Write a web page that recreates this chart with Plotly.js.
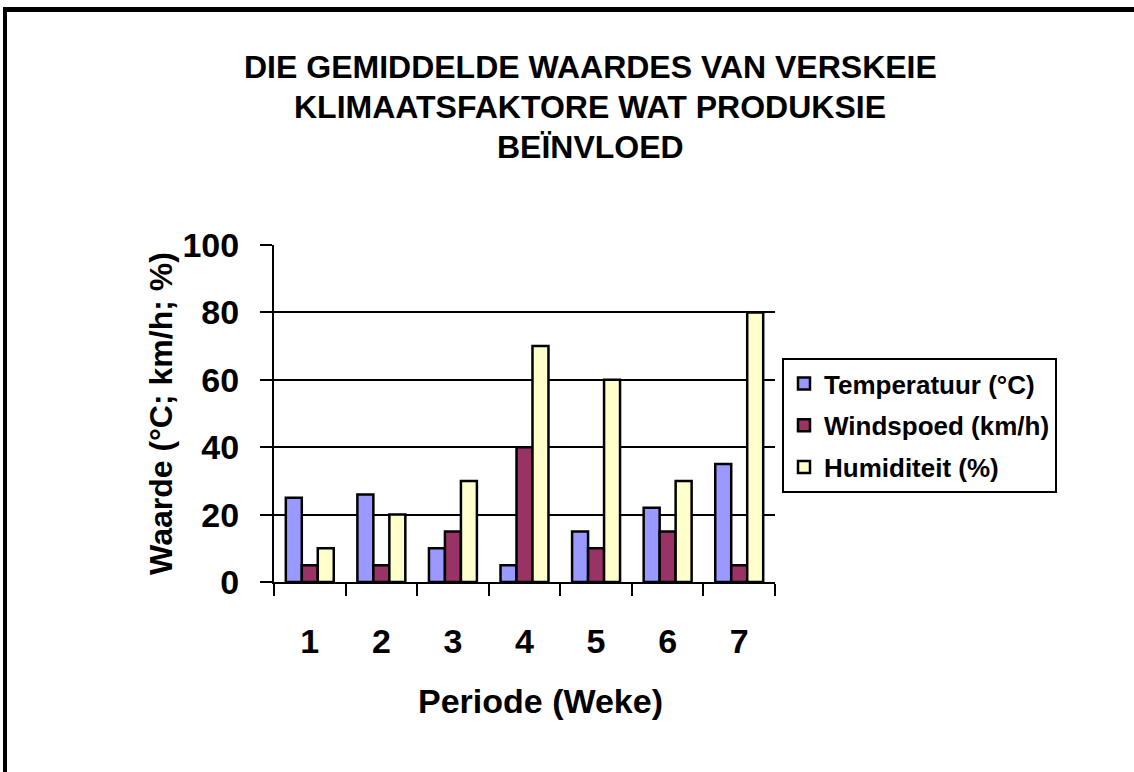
<!DOCTYPE html>
<html>
<head>
<meta charset="utf-8">
<script src="https://cdn.plot.ly/plotly-3.0.1.min.js"></script>
<style>
  html, body { margin: 0; padding: 0; background: #fff; }
  #chart { width: 1134px; height: 772px; }
  #frame { position: absolute; left: 3px; top: 7px; width: 3000px; height: 3000px;
           border-top: 5px solid #000; border-left: 4px solid #000; pointer-events: none; }
</style>
</head>
<body>
<div id="chart"></div>
<div id="frame"></div>
<script>
const categories = ['1', '2', '3', '4', '5', '6', '7'];
const temperatuur = [25, 26, 10, 5, 15, 22, 35];
const windspoed = [5, 5, 15, 40, 10, 15, 5];
const humiditeit = [10, 20, 30, 70, 60, 30, 80];
const seriesNames = ['Temperatuur (°C)', 'Windspoed (km/h)', 'Humiditeit (%)'];
const titleLines = ['DIE GEMIDDELDE WAARDES VAN VERSKEIE', 'KLIMAATSFAKTORE WAT PRODUKSIE', 'BEÏNVLOED'];
const xTitle = 'Periode (Weke)';
const yTitle = 'Waarde (°C; km/h; %)';

const FONT = 'Liberation Sans, Arial, sans-serif';
const colors = ['#9999FF', '#993366', '#FFFFCC'];
const values = [temperatuur, windspoed, humiditeit];

const traces = values.map((v, i) => ({
  type: 'bar',
  name: seriesNames[i],
  x: categories,
  y: v,
  legendgroup: 'g' + i,
  marker: { color: colors[i], line: { color: '#000', width: 2.5 } },
  hoverinfo: 'x+y+name'
}));

const px = x => (x - 274) / 501;
const py = y => (582 - y) / 337;

const titleY = [67, 107, 147];
const annotations = titleLines.map((t, i) => ({
  text: t,
  xref: 'paper', yref: 'paper',
  x: px(590), y: py(titleY[i]),
  xanchor: 'center', yanchor: 'middle',
  showarrow: false,
  font: { family: FONT, size: 32, color: '#000', weight: 'bold' }
}));
annotations.push({
  text: xTitle,
  xref: 'paper', yref: 'paper',
  x: px(540), y: py(701),
  xanchor: 'center', yanchor: 'middle',
  showarrow: false,
  font: { family: FONT, size: 34, color: '#000', weight: 'bold' }
});

const layout = {
  width: 1134, height: 772,
  margin: { l: 274, r: 359, t: 245, b: 190 },
  paper_bgcolor: '#fff', plot_bgcolor: '#fff',
  barmode: 'group', bargap: 0.33, bargroupgap: 0,
  font: { family: FONT, color: '#000' },
  showlegend: true,
  legend: {
    x: px(782), y: py(358),
    xanchor: 'left', yanchor: 'top',
    bordercolor: '#000', borderwidth: 2, bgcolor: '#fff',
    traceorder: 'grouped', tracegroupgap: 5,
    font: { family: FONT, size: 26, color: '#000', weight: 'bold' },
    itemwidth: 30
  },
  xaxis: {
    type: 'category',
    showline: true, linecolor: '#000', linewidth: 2,
    ticks: 'outside', tickson: 'boundaries', ticklen: 12, tickwidth: 2, tickcolor: '#000',
    showgrid: false, zeroline: false,
    ticklabelstandoff: 28,
    tickfont: { family: FONT, size: 34, color: '#000', weight: 'bold' }
  },
  yaxis: {
    range: [0, 100], dtick: 20, tick0: 0,
    showline: true, linecolor: '#000', linewidth: 2,
    ticks: 'outside', ticklen: 12, tickwidth: 2, tickcolor: '#000',
    showgrid: true, gridcolor: '#000', gridwidth: 2, zeroline: false,
    ticklabelstandoff: 14,
    tickfont: { family: FONT, size: 34, color: '#000', weight: 'bold' },
    title: { text: yTitle, standoff: 0, font: { family: FONT, size: 32, color: '#000', weight: 'bold' } }
  },
  annotations: annotations
};

Plotly.newPlot('chart', traces, layout, { displayModeBar: false });
</script>
</body>
</html>
